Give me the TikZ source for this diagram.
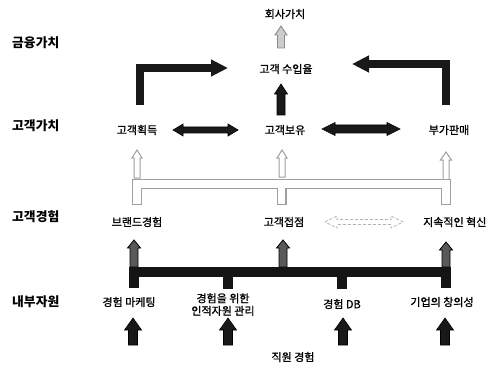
\documentclass[tikz,border=0pt]{standalone}
\usepackage{fontspec}
\setmainfont{Noto Sans CJK KR}
\newfontfamily\nodefont[FakeBold=1.2]{Noto Sans CJK KR}
\usetikzlibrary{calc,arrows.meta}
\tikzset{
  txt/.style={inner sep=0pt, font=\nodefont\fontsize{11}{12.5}\selectfont, align=center},
  lvl/.style={inner sep=0pt, anchor=west, font=\fontsize{12.8}{14}\selectfont\bfseries},
  arrowbody/.style n args={3}{to path={
    ($(\tikztostart)!#1!90:(\tikztotarget)$)
    -- ($($(\tikztotarget)!#3!(\tikztostart)$)!#1!90:(\tikztotarget)$)
    -- ($($(\tikztotarget)!#3!(\tikztostart)$)!#2!90:(\tikztotarget)$)
    -- (\tikztotarget)
    -- ($($(\tikztotarget)!#3!(\tikztostart)$)!#2!-90:(\tikztotarget)$)
    -- ($($(\tikztotarget)!#3!(\tikztostart)$)!#1!-90:(\tikztotarget)$)
    -- ($(\tikztostart)!#1!-90:(\tikztotarget)$)
    -- cycle}},
  dblbody/.style n args={3}{to path={
    (\tikztostart)
    -- ($($(\tikztostart)!#3!(\tikztotarget)$)!#2!90:(\tikztotarget)$)
    -- ($($(\tikztostart)!#3!(\tikztotarget)$)!#1!90:(\tikztotarget)$)
    -- ($($(\tikztotarget)!#3!(\tikztostart)$)!#1!90:(\tikztotarget)$)
    -- ($($(\tikztotarget)!#3!(\tikztostart)$)!#2!90:(\tikztotarget)$)
    -- (\tikztotarget)
    -- ($($(\tikztotarget)!#3!(\tikztostart)$)!#2!-90:(\tikztotarget)$)
    -- ($($(\tikztotarget)!#3!(\tikztostart)$)!#1!-90:(\tikztotarget)$)
    -- ($($(\tikztostart)!#3!(\tikztotarget)$)!#1!-90:(\tikztotarget)$)
    -- ($($(\tikztostart)!#3!(\tikztotarget)$)!#2!-90:(\tikztotarget)$)
    -- cycle}},
  solidarrow/.style={fill=black!90, draw=black, line width=0.6pt, line join=miter},
  grayarrow/.style={fill=gray!40, draw=gray!90, line width=0.9pt},
  hollowarrow/.style={fill=white, draw=gray!75, line width=1pt},
  smallarrow/.style={fill=black!65, draw=black, line width=0.8pt},
  dashedarrow/.style={fill=white, draw=gray!60, line width=0.8pt, densely dashed},
  Lconn/.style={draw=black!90, line width=7.5pt, line join=miter, -{Triangle[length=17pt,width=16pt]}},
}
\begin{document}
\begin{tikzpicture}[x=1pt, y=-1pt]
\useasboundingbox (0,0) rectangle (486,374);
\fill[white] (0,0) rectangle (486,374);

% level labels
\node[lvl] (fin) at (12,43) {금융가치};
\node[lvl] (cvl) at (12,126) {고객가치};
\node[lvl] (cel) at (12,217) {고객경험};
\node[lvl] (irl) at (12,302) {내부자원};

% nodes
\node[txt] (cv) at (285,14) {회사가치};
\node[txt] (crev) at (286,69) {고객 수입율};
\node[txt] (acq) at (137,130) {고객획득};
\node[txt] (ret) at (285,130) {고객보유};
\node[txt] (cross) at (449,130) {부가판매};
\node[txt] (brand) at (137,222) {브랜드경험};
\node[txt] (touch) at (284,222) {고객접점};
\node[txt, anchor=west] (innov) at (423,222) {지속적인 혁신};
\node[txt] (mk) at (129,302) {경험 마케팅};
\node[txt, font=\nodefont\fontsize{11}{12.5}\selectfont] (hr) at (223,304.5) {경험을 위한\\인적자원 관리};
\node[txt] (db) at (342,304) {경험 DB};
\node[txt] (cr) at (442,302) {기업의 창의성};
\node[txt] (emp) at (293,357) {직원 경험};

% arrow end coordinates
\coordinate (cvA) at (281,48);   \coordinate (cvB) at (281,26);
\coordinate (rtA) at (281,115);  \coordinate (rtB) at (281,84);
\coordinate (LlA) at (140,105);  \coordinate (LlB) at (228,68);
\coordinate (LrA) at (446,105);  \coordinate (LrB) at (352,64);
\coordinate (d1A) at (173,130);  \coordinate (d1B) at (238,130);
\coordinate (d2A) at (322,129);  \coordinate (d2B) at (400,129);
\coordinate (h1A) at (137,178);  \coordinate (h1B) at (137,150);
\coordinate (h2A) at (282,177);  \coordinate (h2B) at (282,150);
\coordinate (h3A) at (446,180);  \coordinate (h3B) at (446,152);
\coordinate (d3A) at (325,222);  \coordinate (d3B) at (403,222);
\coordinate (s1A) at (134,267);  \coordinate (s1B) at (134,240);
\coordinate (s2A) at (283,267);  \coordinate (s2B) at (283,240);
\coordinate (s3A) at (446,267);  \coordinate (s3B) at (446,242);
\coordinate (b1A) at (133,345);  \coordinate (b1B) at (133,318);
\coordinate (b2A) at (228,345);  \coordinate (b2B) at (228,318);
\coordinate (b3A) at (343,345);  \coordinate (b3B) at (343,318);
\coordinate (b4A) at (445,345);  \coordinate (b4B) at (445,318);

% top arrows
\draw[grayarrow] (cvA) to[arrowbody={3.5pt}{6pt}{9pt}] (cvB);
\draw[solidarrow] (rtA) to[arrowbody={4pt}{6.5pt}{10pt}] (rtB);
\draw[Lconn] (LlA) |- (LlB);
\draw[Lconn] (LrA) |- (LrB);

% customer value double arrows
\draw[solidarrow] (d1A) to[dblbody={3pt}{6pt}{10pt}] (d1B);
\draw[solidarrow] (d2A) to[dblbody={4pt}{6.5pt}{13pt}] (d2B);

% hollow up arrows
\draw[hollowarrow] (h1A) to[arrowbody={3pt}{5pt}{8pt}] (h1B);
\draw[hollowarrow] (h2A) to[arrowbody={3pt}{5pt}{8pt}] (h2B);
\draw[hollowarrow] (h3A) to[arrowbody={3pt}{5.5pt}{8pt}] (h3B);

% hollow comb
\draw[preaction={draw=gray!75, line width=10pt, line cap=rect, line join=miter},
      white, line width=7.4pt, line cap=rect, line join=miter]
  (137,200) -- (137,184) -- (446,184) -- (446,200)
  (281.5,184) -- (281.5,200);

% dashed double arrow
\draw[dashedarrow] (d3A) to[dblbody={2.5pt}{6pt}{12pt}] (d3B);

% small arrows
\draw[smallarrow] (s1A) to[arrowbody={4pt}{6.5pt}{8pt}] (s1B);
\draw[smallarrow] (s2A) to[arrowbody={4pt}{6.5pt}{8pt}] (s2B);
\draw[smallarrow] (s3A) to[arrowbody={4pt}{6.5pt}{8pt}] (s3B);

% black comb
\draw[black!92, line width=10pt, line cap=rect, line join=miter]
  (134,283) -- (134,272) -- (446,272) -- (446,283)
  (228,272) -- (228,284)
  (342,272) -- (342,284);

% bottom arrows
\draw[solidarrow] (b1A) to[arrowbody={4.5pt}{8.5pt}{12pt}] (b1B);
\draw[solidarrow] (b2A) to[arrowbody={4.5pt}{8.5pt}{12pt}] (b2B);
\draw[solidarrow] (b3A) to[arrowbody={4.5pt}{8.5pt}{12pt}] (b3B);
\draw[solidarrow] (b4A) to[arrowbody={4.5pt}{8.5pt}{12pt}] (b4B);
\end{tikzpicture}
\end{document}
